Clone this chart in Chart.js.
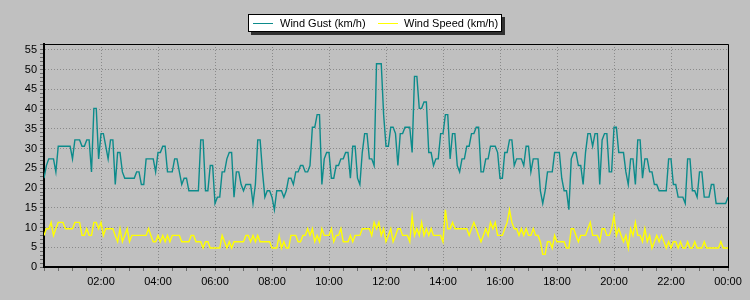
<!DOCTYPE html>
<html>
<head>
<meta charset="utf-8">
<script src="https://cdn.jsdelivr.net/npm/chart.js@4.4.1/dist/chart.umd.min.js"></script>
<style>
  html, body { margin: 0; padding: 0; background: #c0c0c0; }
  #wrap { width: 750px; height: 300px; }
</style>
</head>
<body>
<div id="wrap"><canvas id="graph" width="750" height="300"></canvas></div>
<script>
// one reading every 5 minutes, 00:00 -> 24:00
var gustKmh = [
  22.5, 25.7, 27.4, 27.4, 27.4, 24.1, 30.6, 30.6, 30.6, 30.6,
  30.6, 30.6, 27.4, 32.2, 32.2, 32.2, 30.6, 30.6, 32.2, 32.2,
  24.1, 40.2, 40.2, 27.4, 33.8, 33.8, 30.6, 27.4, 32.2, 32.2,
  20.9, 29.0, 29.0, 24.1, 22.5, 22.5, 22.5, 22.5, 22.5, 24.1,
  24.1, 20.9, 20.9, 27.4, 27.4, 27.4, 27.4, 24.1, 29.0, 29.0,
  30.6, 30.6, 24.1, 24.1, 24.1, 27.4, 27.4, 24.1, 20.9, 22.5,
  22.5, 19.3, 19.3, 19.3, 19.3, 19.3, 32.2, 32.2, 19.3, 19.3,
  25.7, 25.7, 16.1, 17.7, 17.7, 24.1, 24.1, 27.4, 29.0, 29.0,
  17.7, 24.1, 24.1, 20.9, 19.3, 20.9, 20.9, 20.9, 16.1, 20.9,
  32.2, 32.2, 24.1, 17.7, 19.3, 19.3, 17.7, 14.5, 19.3, 19.3,
  19.3, 17.7, 19.3, 22.5, 22.5, 20.9, 24.1, 24.1, 25.7, 25.7,
  24.1, 24.1, 25.7, 35.4, 35.4, 38.6, 38.6, 20.9, 27.4, 29.0,
  29.0, 22.5, 22.5, 25.7, 25.7, 27.4, 27.4, 29.0, 29.0, 22.5,
  30.6, 30.6, 22.5, 20.9, 29.0, 33.8, 33.8, 27.4, 27.4, 25.7,
  51.5, 51.5, 51.5, 38.6, 30.6, 30.6, 35.4, 35.4, 33.8, 25.7,
  33.8, 33.8, 35.4, 35.4, 35.4, 29.0, 48.3, 48.3, 40.2, 40.2,
  41.8, 41.8, 29.0, 29.0, 25.7, 27.4, 27.4, 33.8, 33.8, 38.6,
  38.6, 27.4, 33.8, 33.8, 25.7, 24.1, 27.4, 27.4, 30.6, 30.6,
  33.8, 33.8, 35.4, 35.4, 24.1, 24.1, 27.4, 27.4, 30.6, 30.6,
  30.6, 29.0, 22.5, 22.5, 29.0, 29.0, 32.2, 32.2, 25.7, 27.4,
  27.4, 27.4, 25.7, 30.6, 30.6, 24.1, 27.4, 27.4, 27.4, 19.3,
  16.1, 19.3, 24.1, 24.1, 24.1, 29.0, 29.0, 29.0, 22.5, 19.3,
  19.3, 14.5, 27.4, 29.0, 29.0, 25.7, 25.7, 20.9, 29.0, 33.8,
  33.8, 30.6, 33.8, 33.8, 20.9, 32.2, 33.8, 33.8, 24.1, 24.1,
  35.4, 35.4, 29.0, 29.0, 29.0, 24.1, 20.9, 27.4, 27.4, 20.9,
  32.2, 32.2, 22.5, 27.4, 27.4, 24.1, 24.1, 20.9, 20.9, 19.3,
  19.3, 19.3, 19.3, 27.4, 27.4, 20.9, 20.9, 17.7, 17.7, 17.7,
  16.1, 27.4, 27.4, 19.3, 19.3, 17.7, 24.1, 24.1, 17.7, 17.7,
  17.7, 20.9, 20.9, 16.1, 16.1, 16.1, 16.1, 16.1, 17.7
];

var speedKmh = [
  8.0, 9.7, 9.7, 11.3, 8.0, 9.7, 11.3, 11.3, 11.3, 9.7,
  9.7, 9.7, 9.7, 11.3, 11.3, 11.3, 8.0, 8.0, 9.7, 8.0,
  8.0, 11.3, 11.3, 9.7, 11.3, 8.0, 9.7, 9.7, 9.7, 9.7,
  8.0, 6.4, 9.7, 6.4, 8.0, 9.7, 6.4, 8.0, 8.0, 8.0,
  8.0, 8.0, 8.0, 8.0, 9.7, 8.0, 6.4, 6.4, 8.0, 6.4,
  8.0, 6.4, 8.0, 6.4, 8.0, 8.0, 8.0, 8.0, 6.4, 6.4,
  6.4, 6.4, 8.0, 8.0, 6.4, 6.4, 6.4, 4.8, 6.4, 6.4,
  4.8, 4.8, 4.8, 4.8, 4.8, 8.0, 6.4, 4.8, 6.4, 4.8,
  6.4, 6.4, 6.4, 6.4, 6.4, 8.0, 8.0, 6.4, 8.0, 6.4,
  8.0, 6.4, 6.4, 6.4, 6.4, 6.4, 4.8, 4.8, 4.8, 8.0,
  4.8, 6.4, 4.8, 4.8, 8.0, 8.0, 8.0, 6.4, 6.4, 8.0,
  8.0, 9.7, 8.0, 9.7, 6.4, 8.0, 6.4, 9.7, 8.0, 8.0,
  8.0, 9.7, 6.4, 8.0, 8.0, 9.7, 6.4, 6.4, 6.4, 8.0,
  6.4, 8.0, 8.0, 8.0, 9.7, 9.7, 9.7, 9.7, 8.0, 11.3,
  9.7, 11.3, 8.0, 9.7, 6.4, 8.0, 9.7, 6.4, 8.0, 9.7,
  9.7, 8.0, 8.0, 8.0, 6.4, 12.9, 8.0, 9.7, 8.0, 11.3,
  8.0, 9.7, 8.0, 9.7, 8.0, 8.0, 8.0, 8.0, 6.4, 14.5,
  9.7, 9.7, 11.3, 9.7, 9.7, 9.7, 9.7, 9.7, 9.7, 8.0,
  9.7, 11.3, 9.7, 8.0, 6.4, 8.0, 9.7, 8.0, 11.3, 9.7,
  11.3, 8.0, 8.0, 8.0, 9.7, 11.3, 14.5, 11.3, 9.7, 9.7,
  8.0, 9.7, 8.0, 9.7, 8.0, 8.0, 9.7, 8.0, 8.0, 6.4,
  3.2, 3.2, 6.4, 6.4, 4.8, 8.0, 6.4, 6.4, 6.4, 6.4,
  4.8, 4.8, 9.7, 9.7, 8.0, 6.4, 8.0, 8.0, 8.0, 9.7,
  11.3, 8.0, 8.0, 8.0, 6.4, 9.7, 9.7, 8.0, 8.0, 9.7,
  12.9, 8.0, 9.7, 8.0, 6.4, 8.0, 4.8, 9.7, 8.0, 11.3,
  8.0, 8.0, 6.4, 9.7, 6.4, 8.0, 4.8, 6.4, 8.0, 6.4,
  8.0, 6.4, 4.8, 6.4, 4.8, 6.4, 6.4, 4.8, 6.4, 4.8,
  4.8, 6.4, 4.8, 4.8, 6.4, 4.8, 4.8, 4.8, 6.4, 4.8,
  4.8, 4.8, 4.8, 4.8, 4.8, 6.4, 4.8, 4.8, 4.8
];

var timeLabels = ['', '02:00', '04:00', '06:00', '08:00', '10:00', '12:00',
                  '14:00', '16:00', '18:00', '20:00', '22:00', '00:00'];

var seriesNames = ['Wind Gust (km/h)', 'Wind Speed (km/h)'];
var seriesColors = ['#0c8b8b', '#ffff00'];

function toPoints(arr) {
    return arr.map(function(v, i) { return {x: i * 5, y: v}; });
}

var FONT = 'Liberation Sans, Arial, sans-serif';

var bgPlugin = {
    id: 'bg',
    beforeDraw: function(chart) {
        var c = chart.ctx;
        c.save();
        c.fillStyle = '#c0c0c0';
        c.fillRect(0, 0, chart.width, chart.height);
        c.restore();
    },
    afterDraw: function(chart) {
        var c = chart.ctx, a = chart.chartArea;
        c.save();
        // frame
        c.strokeStyle = '#000';
        c.lineWidth = 1;
        c.beginPath();
        c.moveTo(a.left, a.top + 0.5);
        c.lineTo(a.right + 0.5, a.top + 0.5);
        c.lineTo(a.right + 0.5, a.bottom);
        c.stroke();

        // legend box
        var bx = 248, by = 14, bw = 254, bh = 18;
        c.fillStyle = '#303030';
        c.fillRect(bx + 3, by + 3, bw, bh);
        c.fillStyle = '#fff';
        c.fillRect(bx, by, bw, bh);
        c.strokeStyle = '#000';
        c.strokeRect(bx + 0.5, by + 0.5, bw - 1, bh - 1);

        c.font = '11px ' + FONT;
        c.textBaseline = 'middle';
        c.fillStyle = '#000';
        var pos = [[253, 280], [378, 404]];
        for (var k = 0; k < 2; k++) {
            c.strokeStyle = seriesColors[k];
            c.lineWidth = 1;
            c.beginPath();
            c.moveTo(pos[k][0], by + 9.5);
            c.lineTo(pos[k][0] + 20, by + 9.5);
            c.stroke();
            c.fillText(seriesNames[k], pos[k][1], by + 9.5);
        }
        c.restore();
    }
};

var ctx = document.getElementById('graph');

new Chart(ctx, {
    type: 'line',
    data: {
        datasets: [
            {
                label: seriesNames[0],
                data: toPoints(gustKmh),
                borderColor: seriesColors[0],
                borderWidth: 1.4,
                pointRadius: 0,
                tension: 0
            },
            {
                label: seriesNames[1],
                data: toPoints(speedKmh),
                borderColor: seriesColors[1],
                borderWidth: 1.4,
                pointRadius: 0,
                tension: 0
            }
        ]
    },
    options: {
        responsive: false,
        animation: false,
        layout: {
            padding: { left: 0, right: 22, top: 44, bottom: 0 }
        },
        plugins: {
            legend: { display: false },
            tooltip: { enabled: false }
        },
        scales: {
            x: {
                type: 'linear',
                min: 0,
                max: 1440,
                afterFit: function(scale) { scale.height = 33; },
                border: {
                    display: true,
                    color: '#000',
                    width: 2,
                    dash: [1, 2]
                },
                grid: {
                    color: function(c) {
                        return (c.tick && c.tick.value % 120 === 0) ? '#8a8a8a' : 'rgba(0,0,0,0)';
                    },
                    tickColor: '#6a6a6a',
                    tickLength: 4,
                    lineWidth: 1
                },
                ticks: {
                    stepSize: 30,
                    autoSkip: false,
                    maxRotation: 0,
                    padding: 4,
                    color: '#000',
                    font: { family: FONT, size: 11 },
                    callback: function(v) {
                        return v % 120 === 0 ? timeLabels[v / 120] : '';
                    }
                }
            },
            y: {
                min: 0,
                max: 56.5,
                afterFit: function(scale) { scale.width = 44; },
                border: {
                    display: true,
                    color: '#000',
                    width: 2,
                    dash: [1, 2]
                },
                grid: {
                    color: function(c) {
                        return (c.tick && c.tick.value % 5 === 0) ? '#8a8a8a' : 'rgba(0,0,0,0)';
                    },
                    tickColor: '#6a6a6a',
                    tickLength: 4,
                    lineWidth: 1
                },
                ticks: {
                    stepSize: 1,
                    maxTicksLimit: 1000,
                    autoSkip: false,
                    padding: 3,
                    color: '#000',
                    font: { family: FONT, size: 11 },
                    callback: function(v) {
                        return v % 5 === 0 ? String(v) : '';
                    }
                }
            }
        }
    },
    plugins: [bgPlugin]
});
</script>
</body>
</html>
